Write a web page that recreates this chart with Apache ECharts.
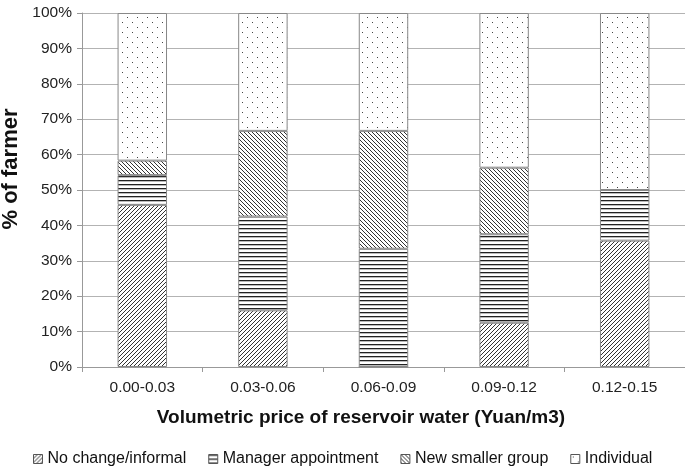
<!DOCTYPE html>
<html>
<head>
<meta charset="utf-8">
<script src="https://cdn.jsdelivr.net/npm/echarts@6/dist/echarts.min.js"></script>
<style>html,body{margin:0;padding:0;background:#fff}#c{width:685px;height:468px}</style>
</head>
<body>
<div id="c"></div>
<script>
var categories = ['0.00-0.03', '0.03-0.06', '0.06-0.09', '0.09-0.12', '0.12-0.15'];
var seriesNames = ['No change/informal', 'Manager appointment', 'New smaller group', 'Individual'];
var noChange = [45.8, 16.0, 0, 12.5, 35.7];
var manager = [8.4, 26.5, 33.4, 25.0, 14.3];
var newGroup = [4.1, 24.2, 33.3, 18.8, 0];
var individual = [41.7, 33.3, 33.3, 43.7, 50.0];
var yTicks = [0, 10, 20, 30, 40, 50, 60, 70, 80, 90, 100];

function makePattern(kind) {
  var c = document.createElement('canvas');
  var ctx;
  if (kind === 'fwd' || kind === 'back') {
    c.width = 4; c.height = 4; ctx = c.getContext('2d');
    ctx.fillStyle = '#fff'; ctx.fillRect(0, 0, 4, 4);
    ctx.fillStyle = '#333';
    for (var i = 0; i < 4; i++) {
      var x = kind === 'fwd' ? 3 - i : i;
      ctx.fillRect(x, i, 1, 1);
    }
  } else if (kind === 'horiz') {
    c.width = 4; c.height = 4; ctx = c.getContext('2d');
    ctx.fillStyle = '#fff'; ctx.fillRect(0, 0, 4, 4);
    ctx.fillStyle = '#222'; ctx.fillRect(0, 0, 4, 1);
    ctx.fillStyle = '#bbb'; ctx.fillRect(0, 1, 4, 1);
  } else {
    c.width = 10; c.height = 10; ctx = c.getContext('2d');
    ctx.fillStyle = '#fff'; ctx.fillRect(0, 0, 10, 10);
    ctx.fillStyle = '#444';
    ctx.fillRect(2, 2, 1, 1);
    ctx.fillRect(7, 7, 1, 1);
  }
  return { image: c, repeat: 'repeat' };
}

var patterns = [makePattern('fwd'), makePattern('horiz'), makePattern('back'), makePattern('dots')];
var dataSets = [noChange, manager, newGroup, individual];

var chart = echarts.init(document.getElementById('c'), null, { renderer: 'canvas' });
var font = 'Liberation Sans, Arial, sans-serif';
chart.setOption({
  animation: false,
  backgroundColor: '#fff',
  grid: { left: 82, right: 0, top: 13, bottom: 101, containLabel: false, outerBoundsMode: 'none' },
  legend: {
    left: 28, top: 446,
    itemWidth: 9, itemHeight: 9, itemGap: 22,
    icon: 'rect',
    textStyle: { fontFamily: font, fontSize: 16, color: '#111' },
    itemStyle: { borderColor: '#555', borderWidth: 1 },
    data: seriesNames
  },
  xAxis: {
    type: 'category',
    data: categories,
    name: 'Volumetric price of reservoir water (Yuan/m3)',
    nameLocation: 'middle',
    nameGap: 41,
    nameTextStyle: { fontFamily: font, fontSize: 19, fontWeight: 'bold', color: '#111', padding: [0, 45, 0, 0] },
    axisLine: { lineStyle: { color: '#999' } },
    axisTick: { show: true, length: 5, lineStyle: { color: '#999' } },
    axisLabel: { fontFamily: font, fontSize: 15.5, color: '#222', margin: 13 }
  },
  yAxis: {
    type: 'value',
    min: yTicks[0], max: yTicks[yTicks.length - 1], interval: 10,
    name: '% of farmer',
    nameLocation: 'middle',
    nameGap: 53,
    nameTextStyle: { fontFamily: font, fontSize: 22, fontWeight: 'bold', color: '#111', padding: [0, 0, 0, 42] },
    axisLine: { show: true, lineStyle: { color: '#999' } },
    axisTick: { show: true, length: 5, lineStyle: { color: '#999' } },
    axisLabel: { fontFamily: font, fontSize: 15.5, color: '#222', margin: 10, formatter: '{value}%' },
    splitLine: { lineStyle: { color: '#b3b3b3' } }
  },
  series: seriesNames.map(function (n, i) {
    return {
      name: n,
      type: 'bar',
      stack: 'total',
      barWidth: '41%',
      data: dataSets[i],
      itemStyle: { color: patterns[i], borderColor: '#888', borderWidth: 1 }
    };
  })
});
</script>
</body>
</html>
